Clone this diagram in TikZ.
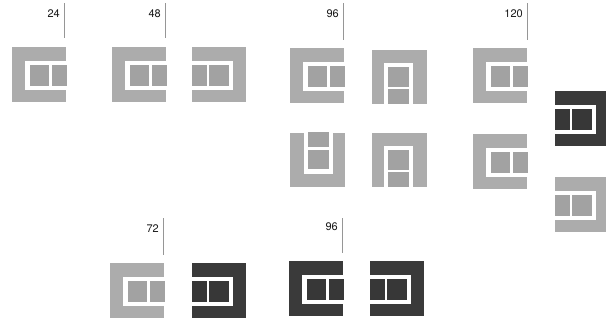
\documentclass[tikz,border=0pt]{standalone}
\usepackage{fontspec}
\setmainfont{TeX Gyre Heros}
\definecolor{lightg}{RGB}{172,172,172}
\definecolor{lighti}{RGB}{162,162,162}
\definecolor{darkg}{RGB}{58,58,58}
\definecolor{darki}{RGB}{55,55,55}
\definecolor{ruleg}{RGB}{150,150,150}
\tikzset{
  numlab/.style={anchor=east, inner sep=0pt, font=\fontsize{11}{13}\selectfont, text=black!90},
  tickline/.style={draw=ruleg, line width=0.8pt},
  openright/.style={},
  openleft/.style={xscale=-1},
  openup/.style={rotate=90},
  opendown/.style={rotate=-90}
}
\newcommand{\glyphmark}[5]{%
  \begin{scope}[shift={(#1+27,#2+27.5)},#3]
    \fill[#4] (-27,-27.5) rectangle (27,27.5);
    \fill[white] (-14,-13.5) rectangle (27.5,15.5);
    \fill[#5] (-9.5,-9.5) rectangle (27.5,11.5);
    \fill[white] (10,-9.5) rectangle (12.5,11.5);
  \end{scope}}
\begin{document}
\begin{tikzpicture}[x=1pt,y=-1pt]
\fill[white] (0,0) rectangle (606,324);
\useasboundingbox (0,0) rectangle (606,324);
\clip (0,0) rectangle (606,324);
% row 1
\glyphmark{12}{47}{openright}{lightg}{lighti}
\glyphmark{112}{47}{openright}{lightg}{lighti}
\glyphmark{192}{47}{openleft}{lightg}{lighti}
\glyphmark{290}{48}{openright}{lightg}{lighti}
\glyphmark{372}{49}{opendown}{lightg}{lighti}
\glyphmark{473}{48}{openright}{lightg}{lighti}
% row 2
\glyphmark{290}{132}{openup}{lightg}{lighti}
\glyphmark{372}{132}{opendown}{lightg}{lighti}
\glyphmark{473}{134}{openright}{lightg}{lighti}
\glyphmark{555}{91}{openleft}{darkg}{darki}
\glyphmark{555}{177}{openleft}{lightg}{lighti}
% row 3
\glyphmark{110}{263}{openright}{lightg}{lighti}
\glyphmark{192}{263}{openleft}{darkg}{darki}
\glyphmark{289}{261}{openright}{darkg}{darki}
\glyphmark{370}{261}{openleft}{darkg}{darki}
% labels and ticks
\node[numlab] (l24) at (60,14) {24};
\coordinate (t24a) at (64,3); \coordinate (t24b) at (64,38);
\draw[tickline] (t24a) -- (t24b);
\node[numlab] (l48) at (161,14) {48};
\coordinate (t48a) at (165,3); \coordinate (t48b) at (165,38);
\draw[tickline] (t48a) -- (t48b);
\node[numlab] (l96a) at (339,14) {96};
\coordinate (t96a) at (343,3); \coordinate (t96b) at (343,40);
\draw[tickline] (t96a) -- (t96b);
\node[numlab] (l120) at (523,14) {120};
\coordinate (t120a) at (527,3); \coordinate (t120b) at (527,40);
\draw[tickline] (t120a) -- (t120b);
\node[numlab] (l72) at (159,229) {72};
\coordinate (t72a) at (163,218); \coordinate (t72b) at (163,255);
\draw[tickline] (t72a) -- (t72b);
\node[numlab] (l96b) at (338,227) {96};
\coordinate (t96c) at (342,218); \coordinate (t96d) at (342,253);
\draw[tickline] (t96c) -- (t96d);
\end{tikzpicture}
\end{document}
